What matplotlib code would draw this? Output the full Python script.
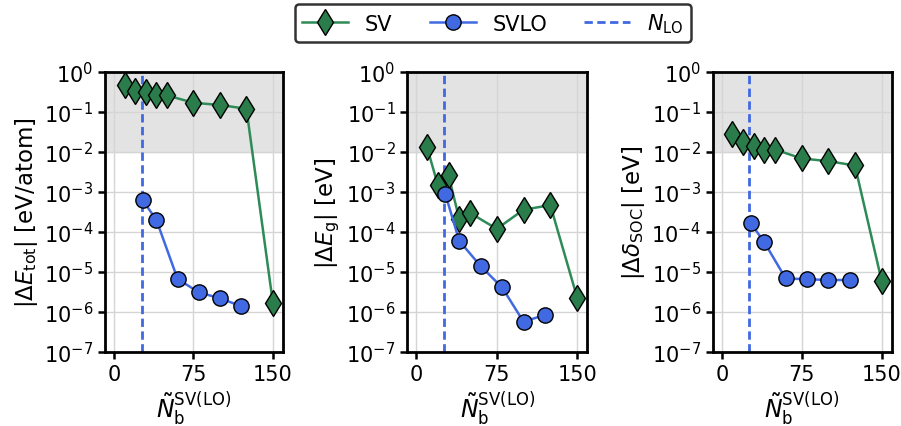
import matplotlib
matplotlib.use("Agg")
import matplotlib.pyplot as plt
from matplotlib.lines import Line2D

# Data
n_lo = 26
sv_x = [10, 20, 30, 40, 50, 75, 100, 125, 150]
svlo_x = [27, 40, 60, 80, 100, 120]

sv_etot = [0.47, 0.33, 0.31, 0.27, 0.26, 0.17, 0.15, 0.12, 1.65e-6]
svlo_etot = [6.3e-4, 2.0e-4, 6.7e-6, 3.1e-6, 2.2e-6, 1.4e-6]

sv_eg = [1.3e-2, 1.5e-3, 2.6e-3, 2.1e-4, 3.0e-4, 1.2e-4, 3.6e-4, 4.7e-4, 2.3e-6]
svlo_eg = [8.9e-4, 6.0e-5, 1.4e-5, 4.1e-6, 5.7e-7, 8.5e-7]

sv_soc = [2.9e-2, 1.8e-2, 1.4e-2, 1.15e-2, 1.15e-2, 6.9e-3, 5.9e-3, 4.6e-3, 6.1e-6]
svlo_soc = [1.7e-4, 5.5e-5, 6.9e-6, 6.6e-6, 6.3e-6, 6.3e-6]

ylabels = [r'$|\Delta E_{\mathrm{tot}}|$ [eV/atom]',
           r'$|\Delta E_{\mathrm{g}}|$ [eV]',
           r'$|\Delta \delta_{\mathrm{SOC}}|$ [eV]']
xticks = [0, 75, 150]
yticks = [1e-7, 1e-6, 1e-5, 1e-4, 1e-3, 1e-2, 1e-1, 1e0]

green_line = '#2e8b57'
green_face = '#2a7d4b'
blue = '#4169e1'

fig = plt.figure(figsize=(9.01, 4.27), dpi=100)
lefts = [105/901, 407.3/901, 712.7/901]
widths = [178/901, 180/901, 179/901]
bottom = (427-353)/427
height = 280/427

sv_data = [sv_etot, sv_eg, sv_soc]
svlo_data = [svlo_etot, svlo_eg, svlo_soc]

for i in range(3):
    ax = fig.add_axes([lefts[i], bottom, widths[i], height])
    ax.axhspan(1e-2, 1e0, color='#e3e3e3', zorder=0)
    ax.plot(sv_x, sv_data[i], color=green_line, lw=1.8, marker='d', ms=13,
            mfc=green_face, mec='black', mew=1.0, zorder=3)
    ax.plot(svlo_x, svlo_data[i], color=blue, lw=1.8, marker='o', ms=11,
            mfc=blue, mec='black', mew=1.0, zorder=3)
    ax.axvline(n_lo, color=blue, ls='--', lw=2, dashes=(3, 1.6), zorder=2)
    ax.set_yscale('log')
    ax.set_ylim(1e-7, 1e0)
    ax.set_xlim(-8.5, 159.5)
    ax.set_xticks(xticks)
    ax.set_yticks(yticks)
    ax.minorticks_off()
    ax.grid(True, color='#d5d5d5', lw=1, zorder=1)
    ax.set_axisbelow(True)
    for s in ax.spines.values():
        s.set_linewidth(2)
    ax.tick_params(axis='both', labelsize=15, width=1.8, length=5)
    ax.set_ylabel(ylabels[i], fontsize=16.5, labelpad=3)
    ax.set_xlabel(r'$\tilde{N}_{\mathrm{b}}^{\mathrm{SV(LO)}}$', fontsize=17, labelpad=3)

handles = [
    Line2D([], [], color=green_line, lw=1.8, marker='d', ms=13, mfc=green_face, mec='black', mew=1.0),
    Line2D([], [], color=blue, lw=1.8, marker='o', ms=11, mfc=blue, mec='black', mew=1.0),
    Line2D([], [], color=blue, lw=2, ls='--', dashes=(3, 1.6)),
]
leg = fig.legend(handles, ['SV', 'SVLO', r'$N_{\mathrm{LO}}$'], loc='upper center',
                 bbox_to_anchor=(0.547, 1.012), ncol=3, fontsize=15, frameon=True,
                 fancybox=True, edgecolor='#333333', handlelength=2.2, columnspacing=1.8,
                 borderpad=0.35)
leg.get_frame().set_linewidth(1.8)
leg.get_frame().set_alpha(1)

fig.savefig('out.png', dpi=100)
